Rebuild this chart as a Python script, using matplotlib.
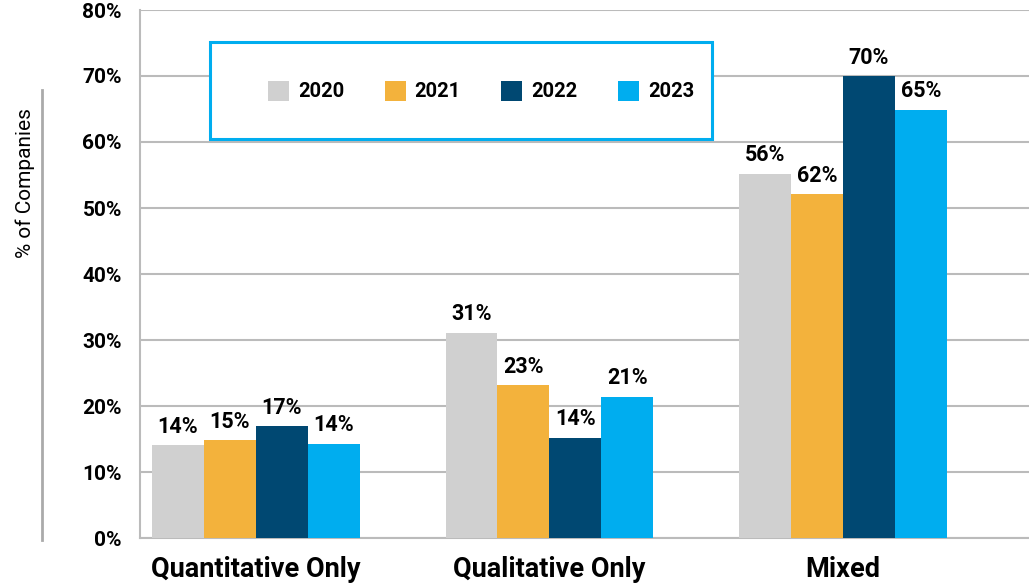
import matplotlib.pyplot as plt
import numpy as np
from matplotlib.patches import Rectangle
from matplotlib.lines import Line2D

plt.rcParams['font.family'] = ['Roboto', 'DejaVu Sans']

categories = ["Quantitative Only", "Qualitative Only", "Mixed"]
years = ["2020", "2021", "2022", "2023"]
# bar heights as drawn (%)
heights = {
    "2020": [14.1, 31.1, 55.2],
    "2021": [14.8, 23.2, 52.1],
    "2022": [16.9, 15.2, 70.0],
    "2023": [14.3, 21.4, 64.9],
}
# labels as printed on the chart
labels = {
    "2020": ["14%", "31%", "56%"],
    "2021": ["15%", "23%", "62%"],
    "2022": ["17%", "14%", "70%"],
    "2023": ["14%", "21%", "65%"],
}
colors = ["#D0D0D0", "#F3B23C", "#004872", "#00ADEF"]
yticks = [0, 10, 20, 30, 40, 50, 60, 70, 80]

fig = plt.figure(figsize=(10.29, 5.84), dpi=100)
ax = fig.add_axes([140 / 1029, 46 / 584, 889 / 1029, 528 / 584])

x = np.arange(len(categories))
w = 0.177
for i, yr in enumerate(years):
    pos = x + (i - 1.5) * w
    bars = ax.bar(pos, heights[yr], width=w, color=colors[i], label=yr, zorder=3)
    for b, lab in zip(bars, labels[yr]):
        ax.text(b.get_x() + b.get_width() / 2, b.get_height() + 1.1, lab,
                ha="center", va="bottom", fontsize=15.5, fontweight="bold", zorder=4)

ax.set_ylim(0, 80)
ax.set_xlim(-0.395, 2.634)
ax.set_yticks(yticks)
ax.set_yticklabels([f"{t}%" for t in yticks], fontsize=15, fontweight="bold")
ax.set_xticks(x)
ax.set_xticklabels(categories, fontsize=19.5, fontweight="bold")
ax.tick_params(axis="y", length=0, pad=13)
ax.tick_params(axis="x", length=0, pad=13)
ax.grid(axis="y", color="#BBBBBB", linewidth=1.5, zorder=0)
for s in ["top", "right"]:
    ax.spines[s].set_visible(False)
ax.spines["left"].set_color("#BBBBBB")
ax.spines["left"].set_linewidth(1.5)
ax.spines["bottom"].set_color("#BBBBBB")
ax.spines["bottom"].set_linewidth(1.5)

# legend box
fig.patches.append(Rectangle((210 / 1029, 1 - 139 / 584), 502 / 1029, 97 / 584,
                             transform=fig.transFigure, facecolor="white",
                             edgecolor="#00ADEF", linewidth=2.2, zorder=5))
leg = fig.legend(loc="center", bbox_to_anchor=(481 / 1029, 1 - 91 / 584), ncol=4,
                 frameon=False, prop={"size": 14.5, "weight": "bold"},
                 handlelength=1.05, handleheight=1.15, handletextpad=0.45,
                 columnspacing=2.0)
leg.set_zorder(6)

fig.text(25 / 1029, 1 - 183 / 584, "% of Companies", rotation=90,
         ha="center", va="center", fontsize=15)
fig.add_artist(Line2D([42 / 1029, 42 / 1029], [1 - 540 / 584, 1 - 90 / 584],
                      transform=fig.transFigure, color="#AAAAAA", linewidth=2))

fig.savefig("out.png", dpi=100)
